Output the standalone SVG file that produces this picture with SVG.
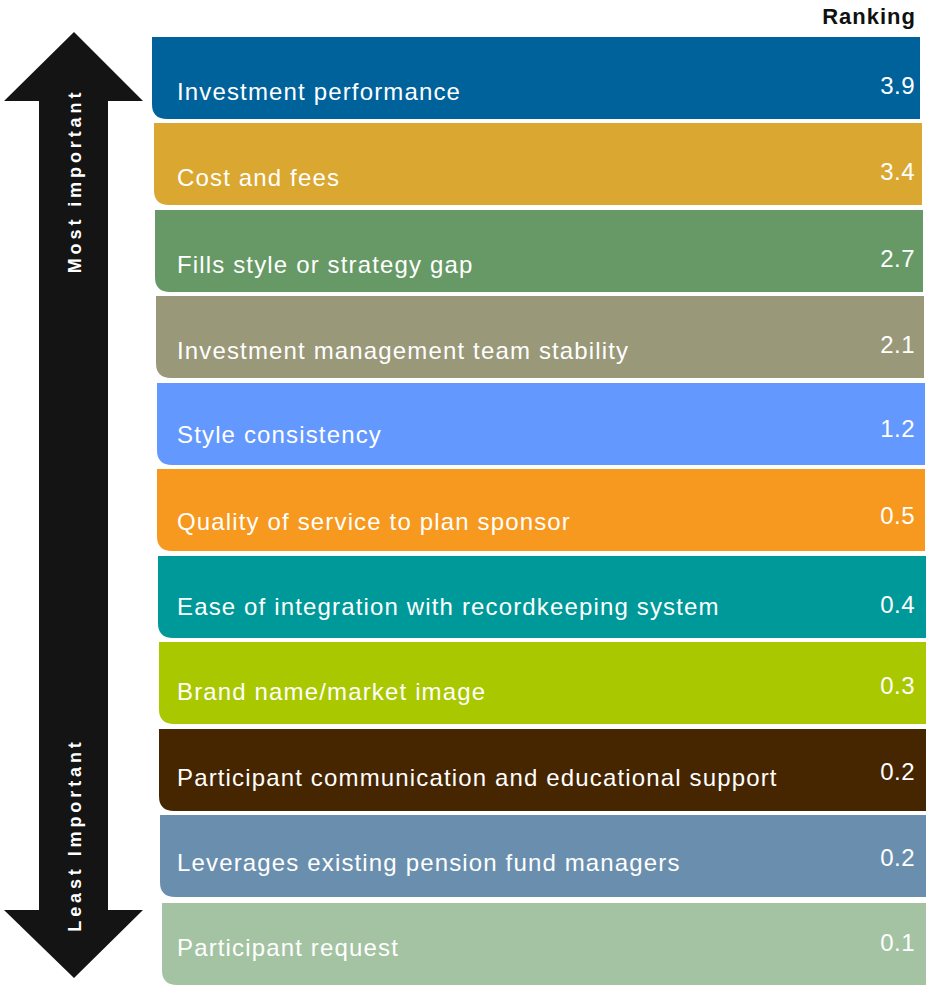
<svg xmlns="http://www.w3.org/2000/svg" width="926" height="987" viewBox="0 0 926 987">
<style>
.lbl{font-family:"Liberation Sans",Arial,sans-serif;font-size:24px;fill:#fff;letter-spacing:1.15px}
.val{font-family:"Liberation Sans",Arial,sans-serif;font-size:24px;fill:#fff;text-anchor:end;letter-spacing:0.5px}
.ax{font-family:"Liberation Sans",Arial,sans-serif;font-size:18px;font-weight:bold;fill:#fff;letter-spacing:3.9px;text-anchor:middle}
</style>
<defs>
<path id="bar" d="M0,0 H768 V82 H15 Q0,82 0,67 Z"/>
</defs>
<rect width="926" height="987" fill="#fff"/>
<text x="916" y="24" font-family="Liberation Sans,Arial,sans-serif" font-size="22" font-weight="bold" letter-spacing="1" text-anchor="end" fill="#111">Ranking</text>
<g id="arrow">
<path d="M74,32 L143,101 L108,101 L108,910 L143,910 L74,978 L4,910 L39,910 L39,101 L4,101 Z" fill="#141414"/>
<text class="ax" transform="translate(81,181) rotate(-90)">Most important</text>
<text class="ax" transform="translate(81,835) rotate(-90)">Least Important</text>
</g>
<g id="b1" transform="translate(152,37)"><use href="#bar" fill="#00629A"/><text class="lbl" x="25" y="63">Investment performance</text><text class="val" x="763" y="57">3.9</text></g>
<g id="b2" transform="translate(154,123)"><use href="#bar" fill="#DAA830"/><text class="lbl" x="23" y="63">Cost and fees</text><text class="val" x="761" y="57">3.4</text></g>
<g id="b3" transform="translate(155,210)"><use href="#bar" fill="#669966"/><text class="lbl" x="22" y="63">Fills style or strategy gap</text><text class="val" x="760" y="57">2.7</text></g>
<g id="b4" transform="translate(156,296)"><use href="#bar" fill="#999878"/><text class="lbl" x="21" y="63">Investment management team stability</text><text class="val" x="759" y="57">2.1</text></g>
<g id="b5" transform="translate(157,383)"><use href="#bar" fill="#6398FE"/><text class="lbl" x="20" y="60">Style consistency</text><text class="val" x="758" y="54">1.2</text></g>
<g id="b6" transform="translate(157,469)"><use href="#bar" fill="#F7991E"/><text class="lbl" x="20" y="61">Quality of service to plan sponsor</text><text class="val" x="758" y="55">0.5</text></g>
<g id="b7" transform="translate(158,556)"><use href="#bar" fill="#009999"/><text class="lbl" x="19" y="59">Ease of integration with recordkeeping system</text><text class="val" x="757" y="57">0.4</text></g>
<g id="b8" transform="translate(159,642)"><use href="#bar" fill="#A9C800"/><text class="lbl" x="18" y="58">Brand name/market image</text><text class="val" x="756" y="52">0.3</text></g>
<g id="b9" transform="translate(159,729)"><use href="#bar" fill="#462600"/><text class="lbl" x="18" y="57">Participant communication and educational support</text><text class="val" x="756" y="51">0.2</text></g>
<g id="b10" transform="translate(160,815)"><use href="#bar" fill="#6A8FAE"/><text class="lbl" x="17" y="56">Leverages existing pension fund managers</text><text class="val" x="755" y="51">0.2</text></g>
<g id="b11" transform="translate(162,903)"><use href="#bar" fill="#A3C3A3"/><text class="lbl" x="15" y="53">Participant request</text><text class="val" x="753" y="48">0.1</text></g>
</svg>
